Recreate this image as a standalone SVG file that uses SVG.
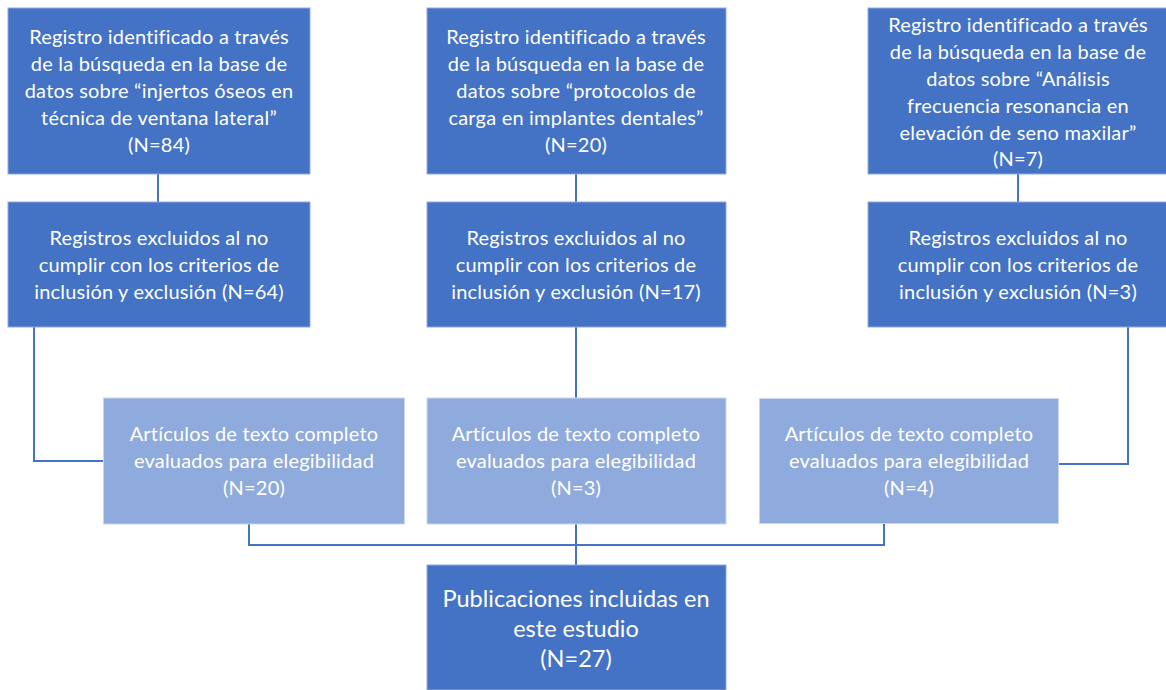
<svg xmlns="http://www.w3.org/2000/svg" width="1166" height="690" viewBox="0 0 1166 690">
<style>
.dark{fill:#4472C4;stroke:#8FA9DC;stroke-width:1}
.light{fill:#8FAADC;stroke:#C9D6EE;stroke-width:1}
.t{font-family:Lato,"Liberation Sans",sans-serif;font-size:20px;letter-spacing:0.2px;fill:#fff;text-anchor:middle}
.tl{font-family:Lato,"Liberation Sans",sans-serif;font-size:20px;letter-spacing:0.2px;fill:#fff;text-anchor:middle}
.tb{font-family:Lato,"Liberation Sans",sans-serif;font-size:23.5px;fill:#fff;text-anchor:middle}
.c{fill:none;stroke:#4472C4;stroke-width:2}
</style>
<rect width="1166" height="690" fill="#fff"/>
<g id="connectors">
<path class="c" d="M158,174V202"/>
<path class="c" d="M576,174V202"/>
<path class="c" d="M1018,174V202"/>
<path class="c" d="M34,327V461H103"/>
<path class="c" d="M576,327V398"/>
<path class="c" d="M1128,327V464H1059"/>
<path class="c" d="M249,524V545H884V523"/>
<path class="c" d="M576,524V565"/>
</g>
<g id="id1">
<rect class="dark" x="8" y="8" width="302" height="166"/>
<text class="t" x="159" y="44">Registro identificado a través</text>
<text class="t" x="159" y="71">de la búsqueda en la base de</text>
<text class="t" x="159" y="98">datos sobre “injertos óseos en</text>
<text class="t" x="159" y="125">técnica de ventana lateral”</text>
<text class="t" x="159" y="152">(N=84)</text>
</g>
<g id="id2">
<rect class="dark" x="427" y="8" width="299" height="166"/>
<text class="t" x="576" y="44">Registro identificado a través</text>
<text class="t" x="576" y="71">de la búsqueda en la base de</text>
<text class="t" x="576" y="98">datos sobre “protocolos de</text>
<text class="t" x="576" y="125">carga en implantes dentales”</text>
<text class="t" x="576" y="152">(N=20)</text>
</g>
<g id="id3">
<rect class="dark" x="868" y="8" width="300" height="166"/>
<text class="t" x="1018" y="32">Registro identificado a través</text>
<text class="t" x="1018" y="59">de la búsqueda en la base de</text>
<text class="t" x="1018" y="86">datos sobre “Análisis</text>
<text class="t" x="1018" y="113">frecuencia resonancia en</text>
<text class="t" x="1018" y="140">elevación de seno maxilar”</text>
<text class="t" x="1018" y="166">(N=7)</text>
</g>
<g id="ex1">
<rect class="dark" x="8" y="202" width="302" height="125"/>
<text class="t" x="159" y="245">Registros excluidos al no</text>
<text class="t" x="159" y="272">cumplir con los criterios de</text>
<text class="t" x="159" y="299">inclusión y exclusión (N=64)</text>
</g>
<g id="ex2">
<rect class="dark" x="427" y="202" width="299" height="125"/>
<text class="t" x="576" y="245">Registros excluidos al no</text>
<text class="t" x="576" y="272">cumplir con los criterios de</text>
<text class="t" x="576" y="299">inclusión y exclusión (N=17)</text>
</g>
<g id="ex3">
<rect class="dark" x="868" y="202" width="300" height="125"/>
<text class="t" x="1018" y="245">Registros excluidos al no</text>
<text class="t" x="1018" y="272">cumplir con los criterios de</text>
<text class="t" x="1018" y="299">inclusión y exclusión (N=3)</text>
</g>
<g id="el1">
<rect class="light" x="103.5" y="398" width="301" height="126"/>
<text class="tl" x="254" y="441">Artículos de texto completo</text>
<text class="tl" x="254" y="468">evaluados para elegibilidad</text>
<text class="tl" x="254" y="495">(N=20)</text>
</g>
<g id="el2">
<rect class="light" x="427" y="398" width="299" height="126"/>
<text class="tl" x="576" y="441">Artículos de texto completo</text>
<text class="tl" x="576" y="468">evaluados para elegibilidad</text>
<text class="tl" x="576" y="495">(N=3)</text>
</g>
<g id="el3">
<rect class="light" x="759.5" y="398.5" width="299" height="125"/>
<text class="tl" x="909" y="441">Artículos de texto completo</text>
<text class="tl" x="909" y="468">evaluados para elegibilidad</text>
<text class="tl" x="909" y="495">(N=4)</text>
</g>
<g id="final">
<rect class="dark" x="427" y="565" width="299" height="125"/>
<text class="tb" x="576" y="607">Publicaciones incluidas en</text>
<text class="tb" x="576" y="637">este estudio</text>
<text class="tb" x="576" y="667">(N=27)</text>
</g>
</svg>
